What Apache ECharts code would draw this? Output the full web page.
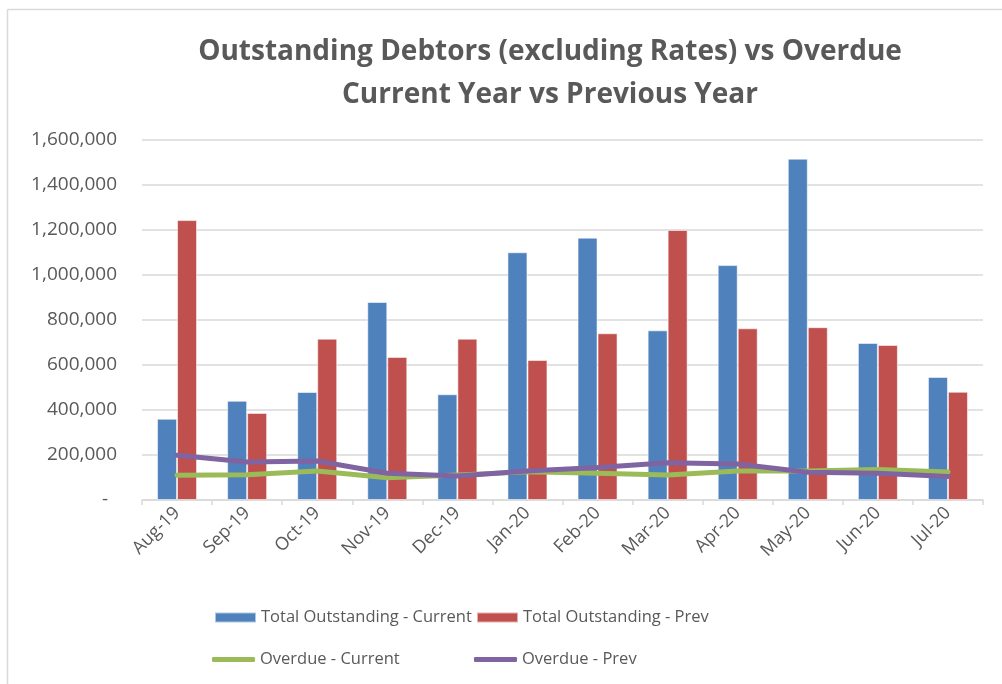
<!DOCTYPE html>
<html>
<head>
<meta charset="utf-8">
<script src="https://cdn.jsdelivr.net/npm/echarts@6/dist/echarts.min.js"></script>
<style>
  html, body { margin: 0; padding: 0; background: #fff; }
  #chart { width: 1002px; height: 684px; }
</style>
</head>
<body>
<div id="chart"></div>
<script>
const months = ['Aug-19', 'Sep-19', 'Oct-19', 'Nov-19', 'Dec-19', 'Jan-20',
                'Feb-20', 'Mar-20', 'Apr-20', 'May-20', 'Jun-20', 'Jul-20'];

const totalCurrent = [361000, 441000, 480000, 880000, 470000, 1101000,
                      1166000, 754000, 1044000, 1517000, 698000, 547000];
const totalPrev    = [1244000, 387000, 717000, 636000, 717000, 622000,
                      741000, 1200000, 763000, 768000, 689000, 481000];
const overdueCurrent = [110000, 112000, 129000, 99000, 111000, 125000,
                        119000, 111000, 129000, 129000, 136000, 125000];
const overduePrev    = [199000, 169000, 173000, 119000, 107000, 129000,
                        144000, 166000, 160000, 123000, 119000, 104000];

const seriesNames = ['Total Outstanding - Current', 'Total Outstanding - Prev',
                     'Overdue - Current', 'Overdue - Prev'];
const colors = ['#4F81BD', '#C0504D', '#9BBB59', '#8064A2'];

const axisMin = 0, axisMax = 1600000, axisStep = 200000;

const textColor = '#595959';
const font = '"Open Sans", "Noto Sans", sans-serif';

function fmt(v) {
  if (v === 0) return '{z|-}';
  return v.toLocaleString('en-US');
}

function legendAt(name, icon, left, top, width, height) {
  return {
    data: [{ name: name, icon: icon }],
    left: left, top: top,
    padding: 0,
    itemWidth: width, itemHeight: height,
    itemGap: 0,
    textStyle: { color: textColor, fontSize: 16.5, fontFamily: font },
    selectedMode: false
  };
}

const chart = echarts.init(document.getElementById('chart'), null, { renderer: 'canvas' });

chart.setOption({
  animation: false,
  backgroundColor: '#ffffff',
  color: colors,
  title: {
    text: 'Outstanding Debtors (excluding Rates) vs Overdue\nCurrent Year vs Previous Year',
    left: 545, top: 26, textAlign: 'center',
    textStyle: { color: textColor, fontSize: 28, fontWeight: 'bold', fontFamily: font, lineHeight: 43 }
  },
  graphic: [
    { type: 'line', shape: { x1: 7.5, y1: 9.5, x2: 1002, y2: 9.5 }, style: { stroke: '#d9d9d9', lineWidth: 1.5 } },
    { type: 'line', shape: { x1: 7.5, y1: 9.5, x2: 7.5, y2: 684 }, style: { stroke: '#d9d9d9', lineWidth: 1.5 } }
  ],
  legend: [
    legendAt(seriesNames[0], 'rect', 214, 609, 41, 10),
    legendAt(seriesNames[1], 'rect', 476, 609, 41, 10),
    legendAt(seriesNames[2], 'roundRect', 212, 651, 43, 5),
    legendAt(seriesNames[3], 'roundRect', 474, 651, 43, 5)
  ],
  grid: { left: 142, right: 19, top: 140, bottom: 184, containLabel: false },
  xAxis: {
    type: 'category',
    data: months,
    boundaryGap: true,
    axisLine: { lineStyle: { color: '#d9d9d9', width: 1.5 } },
    axisTick: { show: true, length: 5, alignWithLabel: false, lineStyle: { color: '#d9d9d9', width: 1.5 } },
    axisLabel: { rotate: 45, color: textColor, fontSize: 18, fontFamily: font, margin: 10, interval: 0 }
  },
  yAxis: {
    type: 'value',
    min: axisMin, max: axisMax, interval: axisStep,
    axisLine: { show: false },
    axisTick: { show: false },
    splitLine: { lineStyle: { color: '#d9d9d9', width: 1.5 } },
    axisLabel: {
      color: textColor, fontSize: 19, fontFamily: font, margin: 25,
      formatter: fmt,
      rich: { z: { color: textColor, fontSize: 19, fontFamily: font, padding: [0, 9, 0, 0] } }
    }
  },
  series: [
    {
      name: seriesNames[0], type: 'bar', data: totalCurrent,
      barWidth: 20, barGap: '0%',
      itemStyle: { color: colors[0], borderColor: 'rgba(255,255,255,0.55)', borderWidth: 1 }
    },
    {
      name: seriesNames[1], type: 'bar', data: totalPrev,
      barWidth: 20, barGap: '0%',
      itemStyle: { color: colors[1], borderColor: 'rgba(255,255,255,0.55)', borderWidth: 1 }
    },
    {
      name: seriesNames[2], type: 'line', data: overdueCurrent,
      symbol: 'none', showSymbol: false,
      lineStyle: { color: colors[2], width: 5, cap: 'round', join: 'round' },
      itemStyle: { color: colors[2] }
    },
    {
      name: seriesNames[3], type: 'line', data: overduePrev,
      symbol: 'none', showSymbol: false,
      lineStyle: { color: colors[3], width: 5, cap: 'round', join: 'round' },
      itemStyle: { color: colors[3] }
    }
  ]
});
</script>
</body>
</html>
